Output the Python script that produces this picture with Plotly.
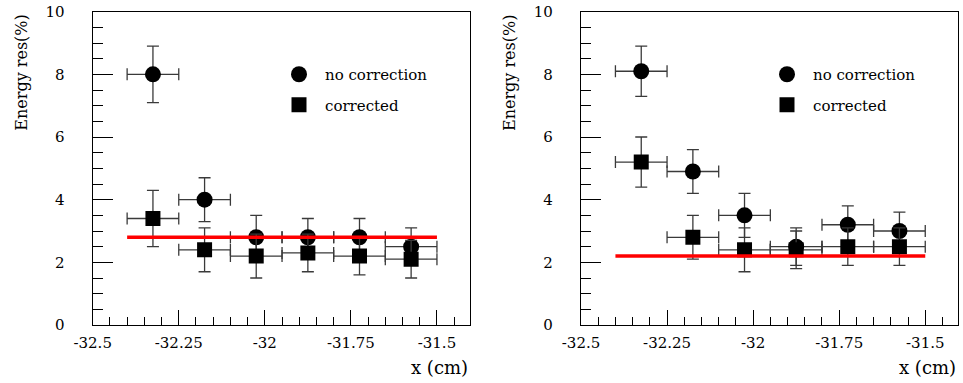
import plotly.graph_objects as go

# ---- data ----
x_centers = [-32.325, -32.175, -32.025, -31.875, -31.725, -31.575]
x_halfwidth = [0.075, 0.075, 0.075, 0.075, 0.075, 0.075]

left_nocorr = [8.0, 4.0, 2.8, 2.8, 2.8, 2.5]
left_nocorr_err = [0.9, 0.7, 0.7, 0.6, 0.6, 0.6]
left_corr = [3.4, 2.4, 2.2, 2.3, 2.2, 2.1]
left_corr_err = [0.9, 0.7, 0.7, 0.6, 0.6, 0.6]
left_fit_x = [-32.4, -31.5]
left_fit_y = [2.8, 2.8]

right_nocorr = [8.1, 4.9, 3.5, 2.5, 3.2, 3.0]
right_nocorr_err = [0.8, 0.7, 0.7, 0.6, 0.6, 0.6]
right_corr = [5.2, 2.8, 2.4, 2.4, 2.5, 2.5]
right_corr_err = [0.8, 0.7, 0.7, 0.6, 0.6, 0.6]
right_fit_x = [-32.4, -31.5]
right_fit_y = [2.2, 2.2]

x_tickvals = [-32.5, -32.25, -32.0, -31.75, -31.5]
x_ticktext = ["-32.5", "-32.25", "-32", "-31.75", "-31.5"]
y_tickvals = [0, 2, 4, 6, 8, 10]
y_ticktext = ["0", "2", "4", "6", "8", "10"]

FONT = "DejaVu Serif"
W, H = 963, 383
ERRC = "#3a3a3a"

fig = go.Figure()

def add_panel(idx, nocorr, nocorr_err, corr, corr_err, fx, fy):
    xa = "x" if idx == 1 else "x2"
    ya = "y" if idx == 1 else "y2"
    leg = "legend" if idx == 1 else "legend2"
    ex = dict(type="data", array=x_halfwidth, color=ERRC, thickness=1.3, width=6)
    fig.add_trace(go.Scatter(
        x=x_centers, y=nocorr, mode="markers", name="no correction",
        marker=dict(symbol="circle", size=16, color="black"),
        error_x=ex,
        error_y=dict(type="data", array=nocorr_err, color=ERRC, thickness=1.3, width=6),
        xaxis=xa, yaxis=ya, legend=leg, legendgroup=f"a{idx}"))
    fig.add_trace(go.Scatter(
        x=x_centers, y=corr, mode="markers", name="corrected",
        marker=dict(symbol="square", size=15, color="black"),
        error_x=ex,
        error_y=dict(type="data", array=corr_err, color=ERRC, thickness=1.3, width=6),
        xaxis=xa, yaxis=ya, legend=leg, legendgroup=f"b{idx}"))
    fig.add_trace(go.Scatter(
        x=fx, y=fy, mode="lines", line=dict(color="#ff0000", width=3.5),
        showlegend=False, xaxis=xa, yaxis=ya, hoverinfo="skip"))

add_panel(1, left_nocorr, left_nocorr_err, left_corr, left_corr_err, left_fit_x, left_fit_y)
add_panel(2, right_nocorr, right_nocorr_err, right_corr, right_corr_err, right_fit_x, right_fit_y)

dom_x1 = [92.7 / W, 470 / W]
dom_x2 = [581 / W, 958.3 / W]
dom_y = [(H - 325) / H, (H - 11.7) / H]

def xaxis(dom, anchor):
    return dict(domain=dom, anchor=anchor, range=[-32.5, -31.404], automargin=False,
                tickvals=x_tickvals, ticktext=x_ticktext,
                ticks="inside", ticklen=15, tickwidth=1, tickcolor="black",
                minor=dict(tick0=-32.5, dtick=0.05, ticks="inside", ticklen=8,
                           tickwidth=1, tickcolor="black", showgrid=False),
                showline=True, linecolor="black", linewidth=1.3, mirror=True,
                showgrid=False, zeroline=False, ticklabelstandoff=4,
                tickfont=dict(family=FONT, size=15, color="black"))

def yaxis(dom, anchor):
    return dict(domain=dom, anchor=anchor, range=[0, 10], automargin=False,
                tickvals=y_tickvals, ticktext=y_ticktext,
                ticks="inside", ticklen=20, tickwidth=1, tickcolor="black",
                minor=dict(tick0=0, dtick=0.5, ticks="inside", ticklen=10,
                           tickwidth=1, tickcolor="black", showgrid=False),
                showline=True, linecolor="black", linewidth=1.3, mirror=True,
                showgrid=False, zeroline=False, ticklabelstandoff=24,
                tickfont=dict(family=FONT, size=15, color="black"))

legend_common = dict(font=dict(family=FONT, size=15, color="black"),
                     bgcolor="rgba(0,0,0,0)", borderwidth=0,
                     tracegroupgap=8, itemwidth=42,
                     xanchor="left", yanchor="top")

annotations = []
for dom in (dom_x1, dom_x2):
    x0 = dom[0] * W
    x1 = dom[1] * W
    annotations.append(dict(text="Energy res(%)", textangle=-90,
                            xref="paper", yref="paper",
                            x=(x0 - 71) / W, y=(H - 13) / H,
                            xanchor="center", yanchor="top", showarrow=False,
                            font=dict(family=FONT, size=16, color="black")))
    annotations.append(dict(text="x (cm)", xref="paper", yref="paper",
                            x=x1 / W, y=(H - 367) / H,
                            xanchor="right", yanchor="middle", showarrow=False,
                            font=dict(family=FONT, size=18, color="black")))

fig.update_layout(
    template="none",
    width=W, height=H,
    margin=dict(l=0, r=0, t=0, b=0, autoexpand=False),
    font=dict(family=FONT, color="black"),
    paper_bgcolor="white", plot_bgcolor="white",
    xaxis=xaxis(dom_x1, "y"), yaxis=yaxis(dom_y, "x"),
    xaxis2=xaxis(dom_x2, "y2"), yaxis2=yaxis(dom_y, "x2"),
    legend=dict(x=(299 - 26) / W, y=(H - 58) / H, **legend_common),
    legend2=dict(x=(787 - 26) / W, y=(H - 58) / H, **legend_common),
    annotations=annotations,
    showlegend=True,
)

fig.write_html("out.html", config={"displayModeBar": False},
               post_script="document.body.style.margin='0px';document.body.style.overflow='hidden';")
